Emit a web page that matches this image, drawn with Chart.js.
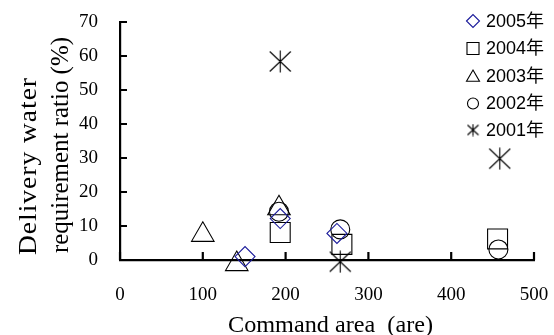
<!DOCTYPE html>
<html>
<head>
<meta charset="utf-8">
<script src="https://cdn.jsdelivr.net/npm/chart.js@4.4.0/dist/chart.umd.min.js"></script>
<style>
html,body{margin:0;padding:0;background:#fff;}
#wrap{width:554px;height:335px;position:relative;}
</style>
</head>
<body>
<div id="wrap"><canvas id="c" width="554" height="335"></canvas></div>
<script>
// ---- data ----
const seriesLabels = ['2005年', '2004年', '2003年', '2002年', '2001年'];
const x2005 = [151, 193.5, 262];
const y2005 = [1.0, 12.2, 7.8];
const x2004 = [193.5, 268, 456];
const y2004 = [8.1, 4.6, 6.2];
const x2003 = [100, 141, 192];
const y2003 = [7.4, -1.2, 15.2];
const x2002 = [192, 266, 457];
const y2002 = [14.2, 9.0, 3.1];
const x2001 = [193.5, 266, 458.7];
const y2001 = [58.4, -0.5, 29.8];
const xTicks = [0, 100, 200, 300, 400, 500];
const yTicks = [0, 10, 20, 30, 40, 50, 60, 70];
const xTitle = 'Command area  (are)';
const yTitleLines = ['Delivery water', 'requirement ratio (%)'];

function pts(xs, ys) { return xs.map((x, i) => ({x: x, y: ys[i]})); }

function makeAsterisk(size, lw) {
  const c = document.createElement('canvas');
  c.width = size; c.height = size;
  const g = c.getContext('2d');
  g.strokeStyle = '#000'; g.lineWidth = lw;
  const h = size / 2;
  g.beginPath();
  g.moveTo(h, 0.5); g.lineTo(h, size - 0.5);
  g.moveTo(1, 1.5); g.lineTo(size - 1, size - 1.5);
  g.moveTo(size - 1, 1.5); g.lineTo(1, size - 1.5);
  g.stroke();
  return c;
}
const starBig = makeAsterisk(23, 1.1);
const starSmall = makeAsterisk(13, 1.1);

const styles = [
  {pointStyle: 'rectRot', radius: 10, color: '#1a1a9a'},
  {pointStyle: 'rect', radius: 14.1, color: '#000'},
  {pointStyle: 'triangle', radius: 13, color: '#000'},
  {pointStyle: 'circle', radius: 9.5, color: '#000'},
  {pointStyle: starBig, radius: 11, color: '#000'}
];
const legendStyles = [
  {pointStyle: 'rectRot', radius: 6.5},
  {pointStyle: 'rect', radius: 8.5},
  {pointStyle: 'triangle', radius: 7.5},
  {pointStyle: 'circle', radius: 5.5},
  {pointStyle: starSmall, radius: 6}
];

const dataArrays = [pts(x2005, y2005), pts(x2004, y2004), pts(x2003, y2003), pts(x2002, y2002), pts(x2001, y2001)];

const datasets = seriesLabels.map((lab, i) => ({
  label: lab,
  data: dataArrays[i],
  pointStyle: styles[i].pointStyle,
  pointRadius: styles[i].radius,
  pointHoverRadius: styles[i].radius,
  borderColor: styles[i].color,
  backgroundColor: 'rgba(0,0,0,0)',
  pointBorderWidth: 1.1,
  borderWidth: 1.1,
  showLine: false,
  clip: false
}));

function fitText(ctx, text, x, y, target, rotate) {
  ctx.save();
  ctx.letterSpacing = '0px';
  const w0 = ctx.measureText(text).width;
  const sc = Math.min(Math.max(target / w0, 0.9), 1.1);
  const n = Math.max(text.length - 1, 1);
  const sp = (target / sc - w0) / n;
  ctx.letterSpacing = sp.toFixed(2) + 'px';
  ctx.translate(x, y);
  if (rotate) ctx.rotate(-Math.PI / 2);
  ctx.scale(sc, 1);
  ctx.textAlign = 'left';
  ctx.fillText(text, 0, 0);
  ctx.restore();
}

const extras = {
  id: 'extras',
  afterDraw(chart) {
    const ctx = chart.ctx;
    const xs = chart.scales.x, ys = chart.scales.y;
    const L = xs.left, B = ys.bottom;
    ctx.save();
    ctx.strokeStyle = '#000';
    ctx.lineWidth = 2.2;
    ctx.beginPath();
    yTicks.forEach(v => { const p = ys.getPixelForValue(v); ctx.moveTo(L, p); ctx.lineTo(L + 7, p); });
    xTicks.forEach(v => { const p = xs.getPixelForValue(v); ctx.moveTo(p, B); ctx.lineTo(p, B - 8); });
    ctx.stroke();

    // legend
    ctx.textAlign = 'left';
    ctx.textBaseline = 'middle';
    ctx.font = '18px "Liberation Sans", "Noto Sans CJK JP", sans-serif';
    const rows = [21, 48.5, 76, 103.5, 130];
    chart.data.datasets.forEach((ds, i) => {
      const y = rows[i];
      ctx.strokeStyle = ds.borderColor;
      ctx.fillStyle = 'rgba(0,0,0,0)';
      ctx.lineWidth = 1.1;
      Chart.helpers.drawPoint(ctx, {pointStyle: legendStyles[i].pointStyle, radius: legendStyles[i].radius, borderWidth: 1.1, rotation: 0}, 473, y + (i === 2 ? 1.5 : 0));
      ctx.fillStyle = '#000';
      ctx.fillText(ds.label, 486, y + 1);
    });

    // axis titles
    ctx.fillStyle = '#000';
    ctx.textBaseline = 'alphabetic';
    ctx.font = '23px "Liberation Serif", serif';
    fitText(ctx, xTitle, 228, 331.5, 205, false);

    ctx.font = '25px "Liberation Serif", serif';
    const baseX = [36, 68];
    const startY = [255, 253];
    const widths = [177, 216];
    yTitleLines.forEach((t, i) => fitText(ctx, t, baseX[i], startY[i], widths[i], true));
    ctx.restore();
  }
};

new Chart(document.getElementById('c'), {
  type: 'scatter',
  data: {datasets: datasets},
  options: {
    responsive: false,
    animation: false,
    events: [],
    layout: {padding: {left: 0, right: 20, top: 22, bottom: 0}},
    plugins: {legend: {display: false}, tooltip: {enabled: false}},
    scales: {
      x: {
        type: 'linear', min: 0, max: 500,
        afterFit(s) { s.height = 75; s.paddingLeft = 0; s.paddingRight = 0; },
        afterBuildTicks(s) { s.ticks = xTicks.map(v => ({value: v})); },
        grid: {display: false, drawTicks: false},
        border: {display: true, color: '#000', width: 2.2},
        ticks: {color: '#000', padding: 24, maxRotation: 0, font: {family: '"Liberation Serif", serif', size: 19}}
      },
      y: {
        type: 'linear', min: 0, max: 70,
        afterFit(s) { s.width = 120; s.paddingTop = 0; s.paddingBottom = 0; },
        afterBuildTicks(s) { s.ticks = yTicks.map(v => ({value: v})); },
        grid: {display: false, drawTicks: false},
        border: {display: true, color: '#000', width: 2.2},
        ticks: {color: '#000', padding: 22, font: {family: '"Liberation Serif", serif', size: 19}}
      }
    }
  },
  plugins: [extras]
});
</script>
</body>
</html>
